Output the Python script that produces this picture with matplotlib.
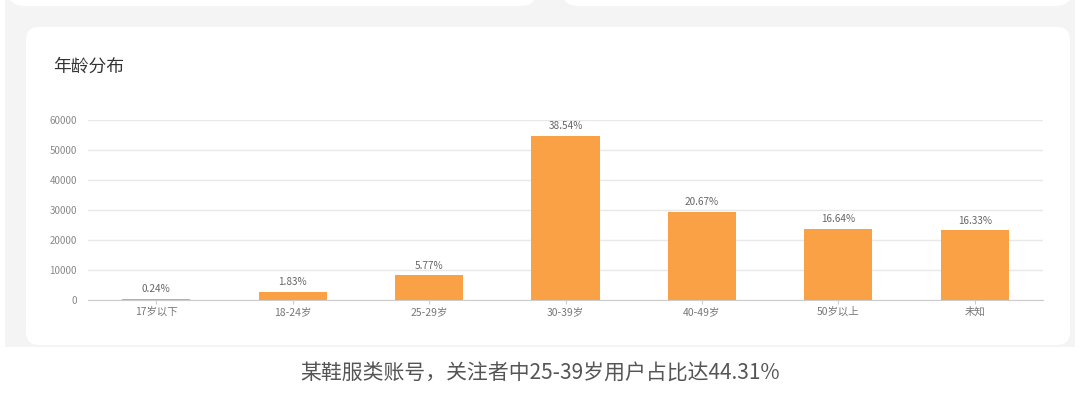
import matplotlib
matplotlib.use("Agg")
import matplotlib.pyplot as plt
from matplotlib.patches import FancyBboxPatch, Rectangle

plt.rcParams['font.family'] = ['Noto Sans CJK SC', 'DejaVu Sans']

# ---- data ----
categories = ["17岁以下", "18-24岁", "25-29岁", "30-39岁", "40-49岁", "50岁以上", "未知"]
counts = [340, 2600, 8190, 54700, 29350, 23630, 23190]
percents = ["0.24%", "1.83%", "5.77%", "38.54%", "20.67%", "16.64%", "16.33%"]
yticks = [0, 10000, 20000, 30000, 40000, 50000, 60000]

title = "年龄分布"
caption = "某鞋服类账号，关注者中25-39岁用户占比达44.31%"

W, H = 1080, 393
fig = plt.figure(figsize=(W / 100, H / 100), dpi=100)
fig.patch.set_facecolor("white")

def px(x, y, w, h):
    # convert pixel box (top-left origin) to figure fraction
    return x / W, 1 - (y + h) / H, w / W, h / H

# gray page background
bx, by, bw, bh = px(5, 0, 1070, 347)
fig.patches.append(Rectangle((bx, by), bw, bh, transform=fig.transFigure,
                             facecolor="#f4f4f4", edgecolor="none", zorder=0))
# top cards (bottoms only visible)
for x0, x1 in [(8, 537), (562, 1072)]:
    cx, cy, cw, ch = px(x0, -20, x1 - x0, 26)
    fig.patches.append(FancyBboxPatch((cx, cy), cw, ch, transform=fig.transFigure,
                                      boxstyle="round,pad=0,rounding_size=0.015",
                                      mutation_aspect=W / H,
                                      facecolor="white", edgecolor="none", zorder=1))
# main card
cx, cy, cw, ch = px(26, 27, 1044, 318)
fig.patches.append(FancyBboxPatch((cx, cy), cw, ch, transform=fig.transFigure,
                                  boxstyle="round,pad=0,rounding_size=0.012",
                                  mutation_aspect=W / H,
                                  facecolor="white", edgecolor="none", zorder=1))

fig.text(53 / W, 1 - 67 / H, title, fontsize=12.8, color="#333333",
         ha="left", va="center", zorder=3)
fig.text(540 / W, 1 - 374 / H, caption, fontsize=15, color="#555555",
         ha="center", va="center", zorder=3)

# ---- chart ----
ax = fig.add_axes([88 / W, 1 - 300 / H, (1043 - 88) / W, 180 / H])
ax.set_zorder(2)
ax.set_facecolor("none")
x = range(len(categories))
ax.bar(x, counts, width=0.5, color="#f9a144", zorder=3)
for i, (c, p) in enumerate(zip(counts, percents)):
    ax.annotate(p, (i, c), xytext=(0, 3.5), textcoords="offset points",
                ha="center", va="bottom", fontsize=7.2, color="#666666")

ax.set_xlim(-0.5, len(categories) - 0.5)
ax.set_ylim(0, 60000)
ax.set_yticks(yticks)
ax.set_yticklabels([str(v) for v in yticks])
ax.set_xticks(list(x))
ax.set_xticklabels(categories)
ax.grid(axis="y", color="#e8e8e8", linewidth=1, zorder=0)
ax.set_axisbelow(True)
for s in ["top", "right", "left"]:
    ax.spines[s].set_visible(False)
ax.spines["bottom"].set_color("#cccccc")
ax.tick_params(axis="y", length=0, pad=8, labelsize=7, labelcolor="#888888")
ax.tick_params(axis="x", length=3, color="#cccccc", pad=2, labelsize=7.5,
               labelcolor="#777777")

fig.savefig("out.png", dpi=100)
